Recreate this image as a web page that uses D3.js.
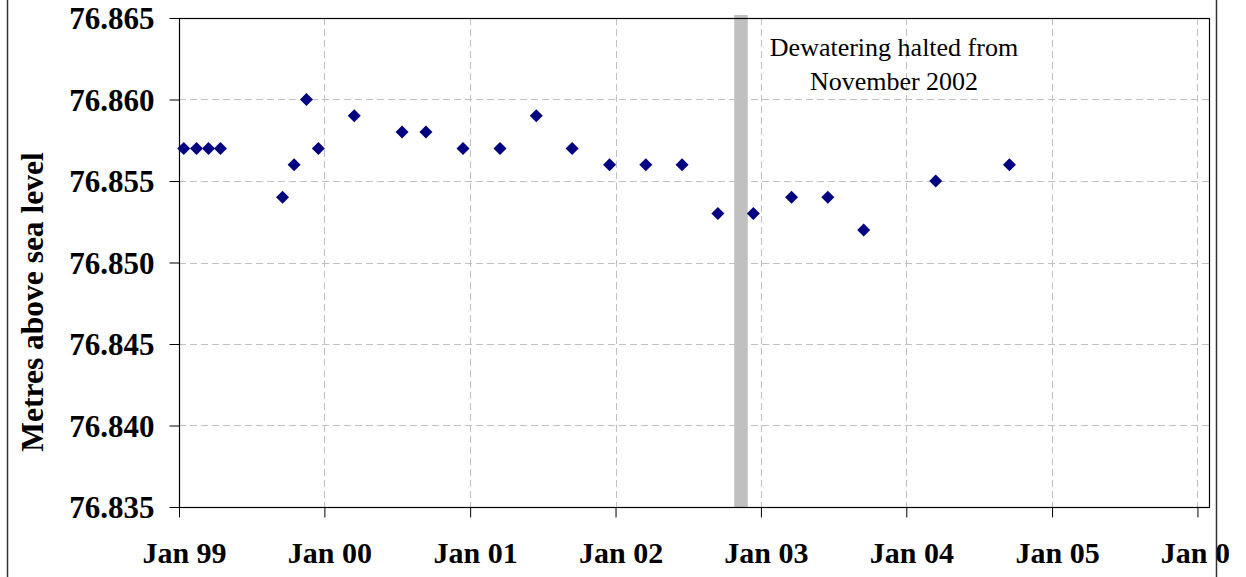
<!DOCTYPE html>
<html>
<head>
<meta charset="utf-8">
<script src="https://cdn.jsdelivr.net/npm/d3@7"></script>
<style>
  html, body { margin: 0; padding: 0; background: #fff; }
  svg { display: block; }
</style>
</head>
<body>
<svg id="chart" width="1246" height="577"></svg>
<script>
// ---- data ----
const sampleDates = [
  "1999-01-13","1999-02-14","1999-03-16","1999-04-15",
  "1999-09-18","1999-10-17","1999-11-17","1999-12-17",
  "2000-03-16","2000-07-14","2000-09-12","2000-12-14",
  "2001-03-17","2001-06-16","2001-09-14","2001-12-17",
  "2002-03-18","2002-06-17","2002-09-15","2002-12-13",
  "2003-03-19","2003-06-18","2003-09-16",
  "2004-03-15","2004-09-16"
];
const levels = [
  76.857, 76.857, 76.857, 76.857,
  76.854, 76.856, 76.860, 76.857,
  76.859, 76.858, 76.858, 76.857,
  76.857, 76.859, 76.857, 76.856,
  76.856, 76.856, 76.853, 76.853,
  76.854, 76.854, 76.852,
  76.855, 76.856
];
const xTickDates = ["1999-01-01","2000-01-01","2001-01-01","2002-01-01","2003-01-01","2004-01-01","2005-01-01","2006-01-01"];
const xTickLabels = ["Jan 99","Jan 00","Jan 01","Jan 02","Jan 03","Jan 04","Jan 05","Jan 06"];
const yTicks = [76.835, 76.840, 76.845, 76.850, 76.855, 76.860, 76.865];
const xDomain = ["1999-01-01", "2006-01-30"];
const yDomain = [76.835, 76.865];
const haltBand = ["2002-10-26", "2002-11-29"];
const annotationLines = ["Dewatering halted from", "November 2002"];
const yTitle = "Metres above sea level";

// ---- layout ----
const parse = d3.utcParse("%Y-%m-%d");
const L = 179, R = 1209, T = 18, B = 507;
const svg = d3.select("#chart");
const x = d3.scaleUtc().domain(xDomain.map(parse)).range([L, R]);
const y = d3.scaleLinear().domain(yDomain).range([B, T]);
const serif = "'Liberation Serif', 'Times New Roman', serif";

// outer frame lines
svg.append("line").attr("x1", 7.5).attr("x2", 7.5).attr("y1", 0).attr("y2", 577)
  .attr("stroke", "#333").attr("stroke-width", 1.5);

// gridlines
const grid = svg.append("g").attr("stroke", "#c0c0c0").attr("stroke-dasharray", "7,4").attr("stroke-width", 1);
grid.selectAll("line.h").data(yTicks.filter(v => v > yDomain[0] && v < yDomain[1]))
  .join("line").attr("class", "h")
  .attr("x1", L).attr("x2", R)
  .attr("y1", d => Math.round(y(d)) + 0.5).attr("y2", d => Math.round(y(d)) + 0.5);
grid.selectAll("line.v").data(xTickDates.slice(1).map(parse))
  .join("line").attr("class", "v")
  .attr("y1", T).attr("y2", B)
  .attr("x1", d => Math.round(x(d)) + 0.5).attr("x2", d => Math.round(x(d)) + 0.5);

// halt band
const b0 = parse(haltBand[0]), b1 = parse(haltBand[1]);
svg.append("rect")
  .attr("x", x(b0)).attr("width", x(b1) - x(b0))
  .attr("y", T - 3).attr("height", B - T + 3)
  .attr("fill", "#c0c0c0");

// plot frame
svg.append("rect").attr("x", L + 0.5).attr("y", T + 0.5).attr("width", R - L).attr("height", B - T)
  .attr("fill", "none").attr("stroke", "#000").attr("stroke-width", 1.2);

// axes
const yAxis = d3.axisLeft(y).tickValues(yTicks).tickFormat(d3.format(".3f")).tickSize(10).tickSizeOuter(0);
const gy = svg.append("g").attr("transform", `translate(${L + 0.5},0)`).call(yAxis);
gy.select(".domain").remove();
gy.selectAll(".tick line").attr("stroke", "#000");
gy.selectAll(".tick text")
  .attr("x", -25).attr("dy", "0.34em")
  .style("font-family", serif).style("font-weight", "bold").style("font-size", "31px").attr("fill", "#000");

const clip = svg.append("clipPath").attr("id", "lblclip");
clip.append("rect").attr("x", 0).attr("y", 0).attr("width", 1229).attr("height", 577);

const xAxis = d3.axisBottom(x).tickValues(xTickDates.map(parse))
  .tickFormat((d, i) => xTickLabels[i]).tickSize(10).tickSizeOuter(0);
const gx = svg.append("g").attr("transform", `translate(0,${B + 0.5})`).attr("clip-path", "url(#lblclip)").call(xAxis);
gx.select(".domain").remove();
gx.selectAll(".tick line").attr("stroke", "#000");
gx.selectAll(".tick text")
  .attr("y", 0).attr("dy", "55px").attr("dx", 5)
  .style("font-family", serif).style("font-weight", "bold").style("font-size", "30px").attr("fill", "#000");

// right outer frame line
svg.append("line").attr("x1", 1216.5).attr("x2", 1216.5).attr("y1", 0).attr("y2", 577)
  .attr("stroke", "#333").attr("stroke-width", 1.5);

// y title
svg.append("text")
  .attr("transform", "translate(43,302) rotate(-90)")
  .attr("text-anchor", "middle")
  .style("font-family", serif).style("font-weight", "bold").style("font-size", "31.5px")
  .text(yTitle);

// annotation
svg.append("text")
  .attr("text-anchor", "middle")
  .style("font-family", serif).style("font-size", "26px")
  .selectAll("tspan").data(annotationLines).join("tspan")
  .attr("x", 894).attr("y", (d, i) => 56 + i * 34)
  .text(d => d);

// points
const pts = sampleDates.map((d, i) => ({ date: parse(d), v: levels[i] }));
svg.append("g").selectAll("path").data(pts).join("path")
  .attr("transform", d => `translate(${x(d.date)},${y(d.v)})`)
  .attr("d", "M0,-6.5L6.5,0L0,6.5L-6.5,0Z")
  .attr("fill", "#000080");
</script>
</body>
</html>
